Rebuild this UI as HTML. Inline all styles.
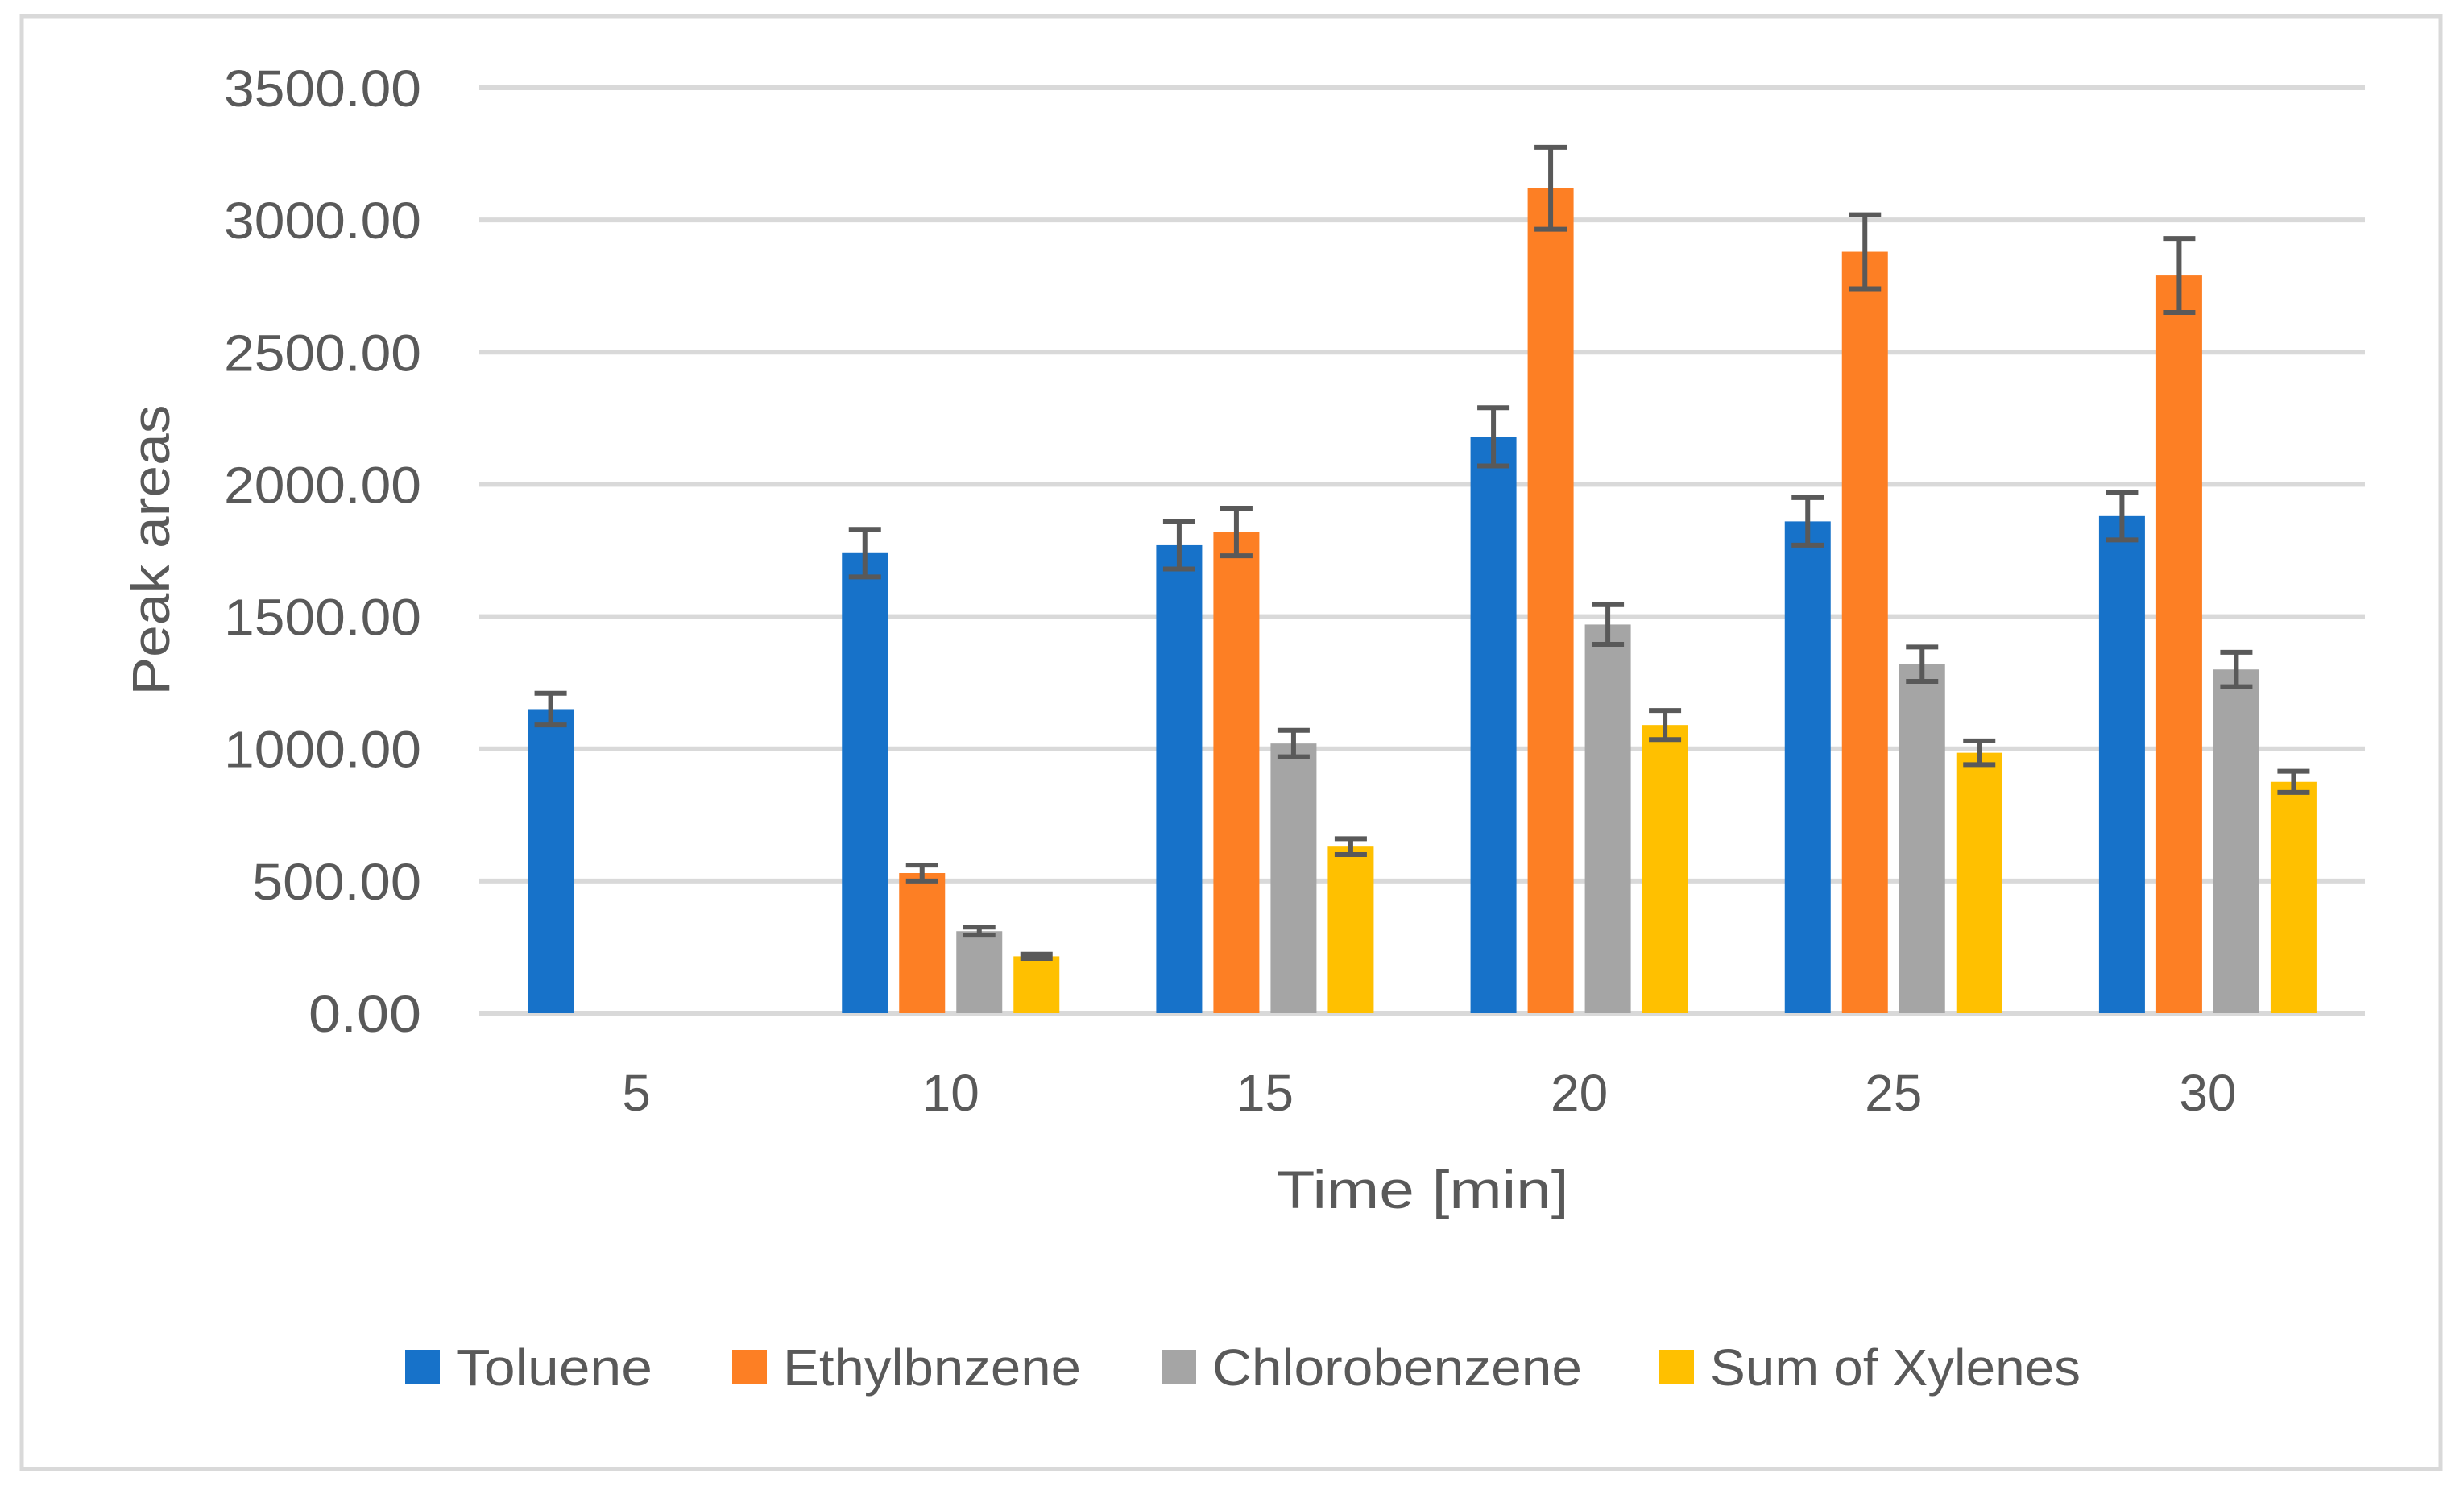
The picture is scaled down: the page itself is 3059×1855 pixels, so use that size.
<!DOCTYPE html>
<html><head><meta charset="utf-8"><style>
html,body{margin:0;padding:0;background:#fff}
svg{display:block}
text{font-family:"Liberation Sans",sans-serif;fill:#595959}
</style></head><body>
<svg id="chart" width="3059" height="1855" viewBox="0 0 3059 1855" xmlns="http://www.w3.org/2000/svg">
<rect x="27" y="20" width="3003" height="1804" fill="#fff" stroke="#d9d9d9" stroke-width="5"/>
<g id="grid"></g>
<g id="bars"></g>
<g id="errs"></g>
<g id="yticks"></g>
<g id="xticks"></g>
<text transform="translate(210,683) rotate(-90)" text-anchor="middle" font-size="66" textLength="361" lengthAdjust="spacingAndGlyphs">Peak areas</text>
<text x="1766" y="1500" text-anchor="middle" font-size="66" textLength="363" lengthAdjust="spacingAndGlyphs">Time [min]</text>
<g id="legend"></g>
</svg>
<script>
const categories = ["5","10","15","20","25","30"];
const seriesNames = ["Toluene","Ethylbnzene","Chlorobenzene","Sum of Xylenes"];
const toluene = [1150,1740,1770,2180,1860,1880];
const ethylbenzene = [0,530,1820,3120,2880,2790];
const chlorobenzene = [0,310,1020,1470,1320,1300];
const xylenes = [0,215,630,1090,985,875];
const tolueneErr = [60,90,90,110,90,90];
const ethylbenzeneErr = [0,30,90,155,140,140];
const chlorobenzeneErr = [0,15,50,75,65,65];
const xylenesErr = [0,8,30,55,45,40];
const yTicks = [0,500,1000,1500,2000,2500,3000,3500];
const yTickLabels = ["0.00","500.00","1000.00","1500.00","2000.00","2500.00","3000.00","3500.00"];

const NS="http://www.w3.org/2000/svg";
const colors=["#1772c9","#fd7f24","#a5a5a5","#ffc000"];
const values=[toluene,ethylbenzene,chlorobenzene,xylenes];
const errs=[tolueneErr,ethylbenzeneErr,chlorobenzeneErr,xylenesErr];
const plotL=595, plotR=2936, y0=1258, yTop=109, yMax=3500;
const band=(plotR-plotL)/categories.length;
const barW=57, gap=14;
function yScale(v){return y0-(v/yMax)*(y0-yTop);}
function xCenter(i){return plotL+band*(i+0.5);}
function mk(tag,attrs,parent){const e=document.createElementNS(NS,tag);for(const k in attrs)e.setAttribute(k,attrs[k]);parent.appendChild(e);return e;}
const grid=document.getElementById('grid'),bars=document.getElementById('bars'),eg=document.getElementById('errs');
const yt=document.getElementById('yticks'),xt=document.getElementById('xticks'),lg=document.getElementById('legend');
yTicks.forEach((t,i)=>{
  const l=mk('line',{x1:plotL,x2:plotR,y1:yScale(t),y2:yScale(t),stroke:'#d9d9d9','stroke-width':6},grid);
  
  
  const tx=mk('text',{x:523,y:yScale(t)+23,'text-anchor':'end','font-size':64,textLength:yTickLabels[i].length*35,lengthAdjust:'spacingAndGlyphs'},yt);
  tx.textContent=yTickLabels[i];
  
  
});
const groupW=4*barW+3*gap;
categories.forEach((c,i)=>{
  const tx=mk('text',{x:xCenter(i),y:1379,'text-anchor':'middle','font-size':64},xt);
  tx.textContent=c;
  
  
  values.forEach((s,j)=>{
    const v=s[i]; if(!v) return;
    const x=xCenter(i)-groupW/2+j*(barW+gap);
    const r=mk('rect',{x:x,y:yScale(v),width:barW,height:y0-yScale(v),fill:colors[j]},bars);
    
    
    const e=errs[j][i], cx=x+barW/2;
    const p=mk('path',{d:`M${cx} ${yScale(v+e)}V${yScale(v-e)}M${cx-20} ${yScale(v+e)}H${cx+20}M${cx-20} ${yScale(v-e)}H${cx+20}`,stroke:'#595959','stroke-width':6,fill:'none'},eg);
    
    
  });
});
const legX=[503,909,1442,2060], legW=[244,370,459,460];
seriesNames.forEach((n,j)=>{
  const g=mk('g',{},lg);
  
  
  mk('rect',{x:legX[j],y:1676,width:43,height:43,fill:colors[j]},g);
  const t=mk('text',{x:legX[j]+63,y:1720,'font-size':64,textLength:legW[j],lengthAdjust:'spacingAndGlyphs'},g);
  t.textContent=n;
});
</script>
</body></html>
